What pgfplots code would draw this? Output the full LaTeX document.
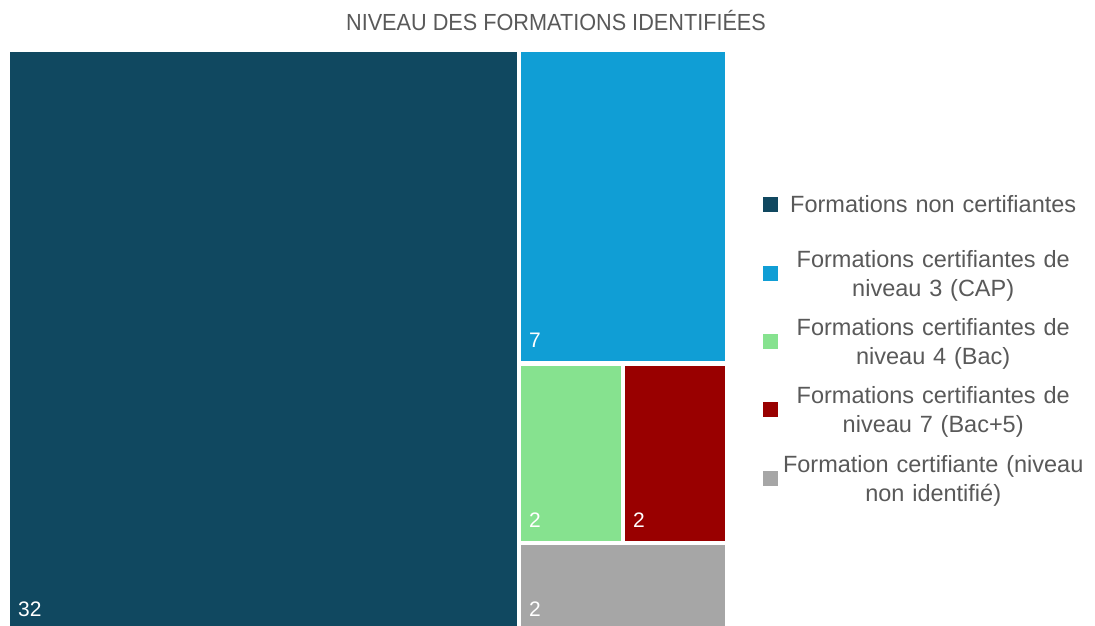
\documentclass[border=0pt]{standalone}
\usepackage{pgfplots}
\pgfplotsset{compat=1.18}
\usepackage{fontspec}
\setmainfont{Liberation Sans}
\newfontfamily\titlefont[FakeStretch=0.93]{Liberation Sans}
\definecolor{cdark}{RGB}{16,72,96}
\definecolor{cblue}{RGB}{16,158,213}
\definecolor{cgreen}{RGB}{134,226,143}
\definecolor{cred}{RGB}{153,0,0}
\definecolor{cgrey}{RGB}{166,166,166}
\definecolor{textgray}{RGB}{89,89,89}
\newcommand{\two}[2]{\raisebox{16pt}{\begin{tabular}{@{}c@{}}#1\\#2\end{tabular}}}
\begin{document}
\begin{tikzpicture}
\begin{axis}[
  scale only axis, width=1095pt, height=626pt,
  xmin=0, xmax=1095, ymin=0, ymax=626, y dir=reverse,
  hide axis, clip=false,
  legend image code/.code={\fill[#1] (0pt,-7.5pt) rectangle (15pt,7.5pt);},
  legend style={at={(axis cs:763,341.5)}, anchor=west, draw=none, fill=none,
    inner sep=0pt, row sep=0pt, column sep=0pt, font=\fontsize{23.5}{29}\selectfont,
    text=textgray,
    nodes={minimum height=68.3pt, text width=310pt, align=center, inner xsep=0pt, inner ysep=0pt}},
]
% invisible frame for bounding box
\addplot[draw=none, forget plot] coordinates {(0,0) (1095,626)};
% value 32
\addplot[fill=cdark, draw=none] coordinates {(10,52) (516.5,52) (516.5,626) (10,626)};
\addlegendentry{Formations non certifiantes}
% value 7
\addplot[fill=cblue, draw=none] coordinates {(521,52) (725,52) (725,361) (521,361)};
\addlegendentry{\two{Formations certifiantes de}{niveau 3 (CAP)}}
% value 2
\addplot[fill=cgreen, draw=none] coordinates {(521,365.5) (620.7,365.5) (620.7,540.7) (521,540.7)};
\addlegendentry{\two{Formations certifiantes de}{niveau 4 (Bac)}}
% value 2
\addplot[fill=cred, draw=none] coordinates {(625,365.5) (725,365.5) (725,540.7) (625,540.7)};
\addlegendentry{\two{Formations certifiantes de}{niveau 7 (Bac+5)}}
% value 2
\addplot[fill=cgrey, draw=none] coordinates {(521,545) (725,545) (725,626) (521,626)};
\addlegendentry{\two{Formation certifiante (niveau}{non identifié)}}

\node[anchor=base, font=\titlefont\fontsize{23.3}{26}\selectfont, text=textgray] at (axis cs:556,31) {NIVEAU DES FORMATIONS IDENTIFIÉES};
\node[anchor=base west, font=\fontsize{21}{22}\selectfont, text=white, inner sep=0pt] at (axis cs:18,616) {32};
\node[anchor=base west, font=\fontsize{21}{22}\selectfont, text=white, inner sep=0pt] at (axis cs:529,347) {7};
\node[anchor=base west, font=\fontsize{21}{22}\selectfont, text=white, inner sep=0pt] at (axis cs:529,527) {2};
\node[anchor=base west, font=\fontsize{21}{22}\selectfont, text=white, inner sep=0pt] at (axis cs:633,527) {2};
\node[anchor=base west, font=\fontsize{21}{22}\selectfont, text=white, inner sep=0pt] at (axis cs:529,616) {2};
\end{axis}
\end{tikzpicture}
\end{document}
